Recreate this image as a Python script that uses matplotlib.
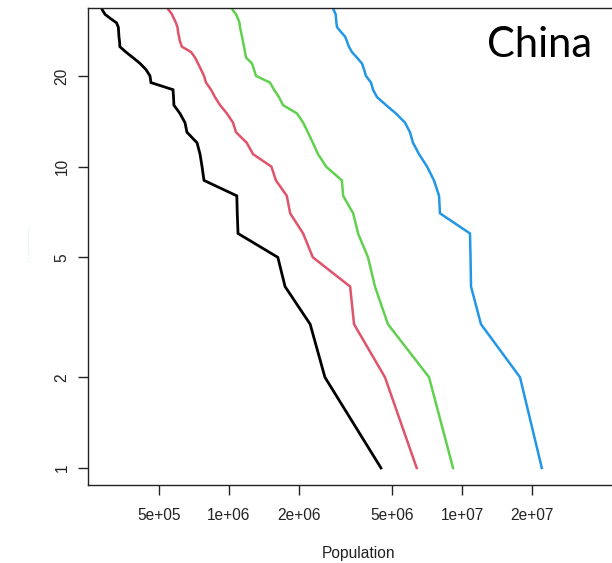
import numpy as np
import matplotlib
matplotlib.use("Agg")
import matplotlib.pyplot as plt
from matplotlib.ticker import NullLocator, FixedLocator, FixedFormatter
from matplotlib.lines import Line2D

plt.rcParams['font.family'] = ['Liberation Sans', 'DejaVu Sans']

# Population by rank (rank 1 = largest), four series
pop_black = [4.49e6, 2.58e6, 2.23e6, 1.74e6, 1.62e6, 1.093e6, 1.085e6, 1.08e6,
             0.781e6, 0.766e6, 0.751e6, 0.729e6, 0.660e6, 0.647e6, 0.616e6,
             0.580e6, 0.578e6, 0.575e6, 0.4625e6, 0.458e6, 0.440e6, 0.415e6,
             0.387e6, 0.361e6, 0.340e6, 0.339e6, 0.337e6, 0.336e6, 0.335e6,
             0.329e6, 0.310e6, 0.294e6, 0.2865e6, 0.282e6]
pop_red = [6.39e6, 4.67e6, 3.44e6, 3.31e6, 2.29e6, 2.08e6, 1.83e6, 1.77e6,
           1.59e6, 1.52e6, 1.268e6, 1.191e6, 1.072e6, 1.040e6, 0.980e6,
           0.915e6, 0.871e6, 0.837e6, 0.797e6, 0.781e6, 0.758e6, 0.736e6,
           0.715e6, 0.687e6, 0.628e6, 0.616e6, 0.610e6, 0.604e6, 0.601e6,
           0.592e6, 0.580e6, 0.569e6, 0.553e6, 0.537e6]
pop_green = [9.15e6, 7.22e6, 4.81e6, 4.23e6, 3.95e6, 3.58e6, 3.41e6, 3.09e6,
             3.05e6, 2.61e6, 2.41e6, 2.29e6, 2.18e6, 2.08e6, 1.96e6, 1.705e6,
             1.639e6, 1.56e6, 1.50e6, 1.306e6, 1.280e6, 1.255e6, 1.183e6,
             1.171e6, 1.160e6, 1.148e6, 1.137e6, 1.126e6, 1.115e6, 1.109e6,
             1.093e6, 1.072e6, 1.040e6, 1.020e6]
pop_blue = [22.0e6, 17.74e6, 12.06e6, 10.93e6, 10.88e6, 10.82e6, 8.04e6, 7.97e6,
            7.58e6, 7.08e6, 6.54e6, 6.16e6, 5.98e6, 5.69e6, 5.21e6, 4.72e6,
            4.32e6, 4.15e6, 4.07e6, 3.87e6, 3.80e6, 3.72e6, 3.54e6, 3.37e6,
            3.27e6, 3.21e6, 3.15e6, 3.02e6, 2.91e6, 2.89e6, 2.88e6, 2.87e6,
            2.82e6, 2.77e6]

series = [pop_black, pop_red, pop_green, pop_blue]
colors = ['#000000', '#DF536B', '#61D04F', '#2297E6']
widths = [2.0, 1.8, 1.8, 1.8]

x_ticks = [5e5, 1e6, 2e6, 5e6, 1e7, 2e7]
x_tick_labels = ['5e+05', '1e+06', '2e+06', '5e+06', '1e+07', '2e+07']
y_ticks = [1, 2, 5, 10, 20]
y_tick_labels = ['1', '2', '5', '10', '20']

W, H = 612, 563
fig = plt.figure(figsize=(W / 100, H / 100), dpi=100)
left, right, top, bottom = 88, 630, 8, 485
ax = fig.add_axes([left / W, (H - bottom) / H, (right - left) / W, (bottom - top) / H])
ax.set_xscale('log')
ax.set_yscale('log')

for pop, c, lw in zip(series, colors, widths):
    ranks = np.arange(1, len(pop) + 1)
    ax.plot(pop, ranks, color=c, lw=lw, solid_joinstyle='miter')

ax.set_xlim(2.482e5, 5.26e7)
ax.set_ylim(0.878, 33.6)

ax.xaxis.set_major_locator(FixedLocator(x_ticks))
ax.xaxis.set_major_formatter(FixedFormatter(x_tick_labels))
ax.yaxis.set_major_locator(FixedLocator(y_ticks))
ax.yaxis.set_major_formatter(FixedFormatter(y_tick_labels))
ax.xaxis.set_minor_locator(NullLocator())
ax.yaxis.set_minor_locator(NullLocator())

ax.tick_params(axis='both', length=7.2, width=1.0, colors='#222222',
               labelsize=11.2)
ax.tick_params(axis='x', pad=9)
ax.tick_params(axis='y', pad=6)
for lab in ax.get_yticklabels():
    lab.set_rotation(90)
    lab.set_va('center')

for s in ax.spines.values():
    s.set_linewidth(1.0)
    s.set_color('#222222')

ax.set_xlabel('Population', fontsize=11.2, color='#222222', labelpad=17)

fig.text(487 / W, 1 - 56.7 / H, 'China', fontsize=30,
         family=['Lato', 'DejaVu Sans'], ha='left', va='baseline', color='black')

fig.add_artist(Line2D([28 / W, 28 / W], [1 - 228 / H, 1 - 263 / H],
                      color='#bff3f3', lw=0.8, ls=':'))

fig.savefig('out.png', dpi=100)
